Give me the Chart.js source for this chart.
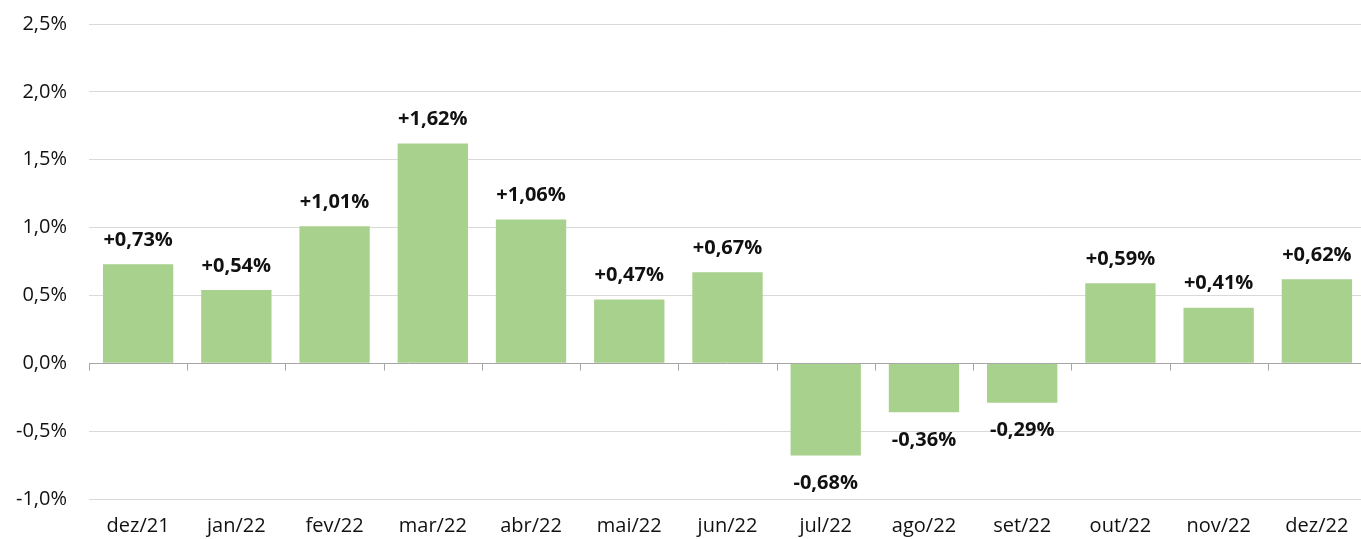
<!DOCTYPE html>
<html>
<head>
<meta charset="utf-8">
<script src="https://cdn.jsdelivr.net/npm/chart.js@4/dist/chart.umd.min.js"></script>
<style>
    html, body { margin: 0; padding: 0; background: #fff; overflow: hidden; }
    body { width: 1361px; height: 539px; position: relative; }
    #wrap { position: absolute; left: 0; top: -10px; width: 1366px; height: 549px; }
</style>
</head>
<body>
<div id="wrap"><canvas id="chart"></canvas></div>
<script>
// dados
const months = ['dez/21', 'jan/22', 'fev/22', 'mar/22', 'abr/22', 'mai/22', 'jun/22',
                'jul/22', 'ago/22', 'set/22', 'out/22', 'nov/22', 'dez/22'];
const variation = [0.73, 0.54, 1.01, 1.62, 1.06, 0.47, 0.67, -0.68, -0.36, -0.29, 0.59, 0.41, 0.62];
const yMin = -1.0;
const yMax = 2.5;
const yStep = 0.5;

const FONT = '"Open Sans", Lato, sans-serif';

const fmtAxis = v => v.toFixed(1).replace('.', ',') + '%';
const fmtValue = v => (v > 0 ? '+' : '') + v.toFixed(2).replace('.', ',') + '%';

// linha do zero com marcas entre categorias
const zeroLine = {
    id: 'zeroLine',
    afterDatasetsDraw(chart) {
        const { ctx, chartArea, scales: { x, y } } = chart;
        const y0 = Math.round(y.getPixelForValue(0)) + 0.5;
        const half = (x.getPixelForValue(1) - x.getPixelForValue(0)) / 2;
        ctx.save();
        ctx.strokeStyle = '#a6a6a6';
        ctx.lineWidth = 1;
        ctx.beginPath();
        ctx.moveTo(chartArea.left, y0);
        ctx.lineTo(chartArea.right, y0);
        for (let i = 0; i <= months.length; i++) {
            const px = Math.round(x.getPixelForValue(i) - half) + 0.5;
            ctx.moveTo(px, y0);
            ctx.lineTo(px, y0 + 7);
        }
        ctx.stroke();
        ctx.restore();
    }
};

// rótulos de valor
const valueLabels = {
    id: 'valueLabels',
    afterDatasetsDraw(chart) {
        const { ctx } = chart;
        const meta = chart.getDatasetMeta(0);
        ctx.save();
        ctx.font = 'bold 20px ' + FONT;
        ctx.fillStyle = '#111';
        ctx.textAlign = 'center';
        ctx.textBaseline = 'middle';
        meta.data.forEach((bar, i) => {
            const v = variation[i];
            const yy = v >= 0 ? bar.y - 24 : bar.y + 28;
            ctx.fillText(fmtValue(v), bar.x, yy);
        });
        ctx.restore();
    }
};

new Chart(document.getElementById('chart'), {
    type: 'bar',
    data: {
        labels: months,
        datasets: [{
            data: variation,
            backgroundColor: '#a9d18e',
            borderWidth: 0,
            categoryPercentage: 1,
            barPercentage: 0.716
        }]
    },
    options: {
        responsive: true,
        maintainAspectRatio: false,
        animation: false,
        layout: { padding: { top: 3, right: 0, left: 0, bottom: 0 } },
        plugins: {
            legend: { display: false },
            tooltip: { enabled: false }
        },
        scales: {
            x: {
                grid: { display: false, drawTicks: false },
                border: { display: false },
                ticks: {
                    color: '#111',
                    font: { family: FONT, size: 20 },
                    padding: 15,
                    maxRotation: 0
                },
                afterFit(scale) { scale.height = 40; }
            },
            y: {
                min: yMin,
                max: yMax,
                grid: {
                    color: ctx => ctx.tick && ctx.tick.value === 0 ? 'rgba(0,0,0,0)' : '#d9d9d9',
                    drawTicks: false
                },
                border: { display: false },
                ticks: {
                    stepSize: yStep,
                    color: '#111',
                    font: { family: FONT, size: 20 },
                    padding: 22,
                    callback: v => fmtAxis(v)
                },
                afterFit(scale) { scale.width = 89; }
            }
        }
    },
    plugins: [zeroLine, valueLabels]
});
</script>
</body>
</html>
